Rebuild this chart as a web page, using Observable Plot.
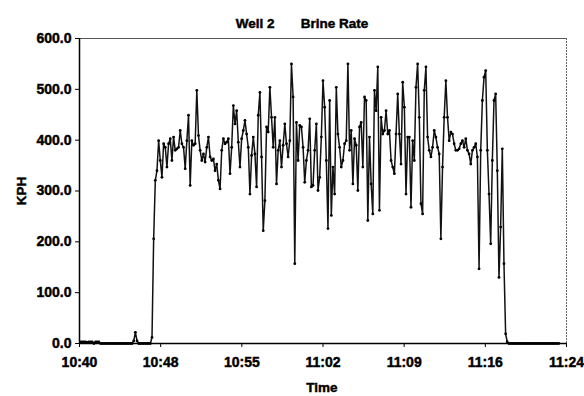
<!DOCTYPE html>
<html>
<head>
<meta charset="utf-8">
<script src="https://cdn.jsdelivr.net/npm/d3@7"></script>
<script src="https://cdn.jsdelivr.net/npm/@observablehq/plot@0.6"></script>
<style>
  html, body { margin: 0; padding: 0; background: #fff; }
  #chart svg text { stroke: #000; stroke-width: 0.45px; }
</style>
</head>
<body>
<div id="chart"></div>
<script>
// ---- data ----
const title = "Well 2\u00a0\u00a0\u00a0\u00a0\u00a0\u00a0\u00a0Brine Rate";
const yLabel = "KPH";
const xLabel = "Time";
const tickLabels = ["10:40", "10:48", "10:55", "11:02", "11:09", "11:16", "11:24"];
const yTicks = [0, 100, 200, 300, 400, 500, 600];
const axisStart = "10:40:00";
const axisEnd = "11:24:00";
// logger: first sample 10:40:06, one sample every 9 s
const firstSample = "10:40:06";
const sampleSeconds = 9;

// KPH, idle before start-up
const idleValues = [3, 3, 3, 3, 2, 3, 3, 3, 0, 3, 3, 3, 0, 0, 0, 0, 0, 0, 0, 0,
  0, 0, 0, 0, 0, 0, 0, 0, 0, 0,
  0, 0, 5, 22, 5, 0, 0, 0, 0, 0, 0, 0, 0];
// KPH, start-up to ~10:58
const runA = [12, 206, 321, 340, 399, 360, 327, 393, 386, 347, 393, 403, 360, 406, 380,
  383, 386, 419, 393, 386, 344, 399, 449, 311, 399, 390, 393, 498, 409, 380,
  360, 373, 357, 386, 406, 367, 360, 363, 340, 353, 321, 304, 380, 403, 393,
  396, 403, 334, 386, 468, 432, 458, 396, 347, 403, 419, 439, 412, 386, 294,
  370, 406, 373, 308, 449, 494, 367, 222, 281, 426, 416];
// KPH, ~10:58 to ~11:10
const runB = [504, 445, 386, 445, 314, 380, 399, 347, 390, 432,
  393, 367, 399, 550, 485, 157, 435, 360, 429, 426,
  386, 317, 360, 380, 442, 308, 311, 380, 432, 301,
  327, 406, 517, 465, 360, 226, 478, 252, 347, 294,
  504, 412, 386, 347, 360, 393, 399, 550, 380, 419,
  314, 403, 390, 301, 426, 435, 347, 485, 478, 242,
  406, 314, 255, 498, 458, 544, 262, 445, 412, 419,
  458, 412, 419, 360, 347, 334, 412, 491, 412, 353,
  514, 465, 294, 406];
// KPH, ~11:10 to shut-down
const runC = [406, 268, 399, 360, 504, 550, 445, 275, 255, 498,
  544, 406, 380, 367, 386, 419, 406, 386, 373, 206,
  347, 445, 517, 445, 399, 416, 412, 393, 380, 380,
  383, 393, 399, 386, 403, 380, 373, 353, 380, 386,
  393, 367, 147, 380, 478, 524, 537, 380, 294, 196,
  360, 478, 491, 340, 130, 229, 383, 157, 19, 3];
// KPH, after shut-down
const offValues = [0, 0, 0, 0, 0, 0, 0, 0, 0, 0, 0, 0, 0, 0, 0, 0, 0, 0, 0, 0,
  0, 0, 0, 0, 0, 0, 0, 0, 0, 0, 0];

// ---- build table ----
function clock(s) {
  const [h, m, sec] = s.split(":").map(Number);
  return new Date(2000, 0, 1, h, m, sec);
}
const t0 = clock(axisStart), t1 = clock(axisEnd);
const allValues = [...idleValues, ...runA, ...runB, ...runC, ...offValues];
const tStart = clock(firstSample);
const data = allValues.map((v, i) => ({
  t: new Date(+tStart + i * sampleSeconds * 1000),
  v
}));
const tickDates = tickLabels.map((_, i) => new Date(+t0 + (t1 - t0) * i / (tickLabels.length - 1)));

const chart = Plot.plot({
  width: 584,
  height: 396,
  marginLeft: 79,
  marginRight: 18,
  marginTop: 38,
  marginBottom: 53,
  style: { fontFamily: "'Liberation Sans', Arial, sans-serif", fontSize: "14px", fontWeight: "bold", color: "#000", background: "#fff" },
  x: { type: "time", domain: [t0, t1] },
  y: { domain: [0, 600] },
  marks: [
    Plot.ruleY([600], { stroke: "#555", strokeWidth: 1 }),
    Plot.ruleX([t1], { stroke: "#666", strokeWidth: 1, strokeDasharray: "2,1" }),
    Plot.axisY({ ticks: yTicks, tickFormat: d => d.toFixed(1), tickSize: 4, tickPadding: 4, label: null, stroke: "#000" }),
    Plot.axisX({ ticks: tickDates, tickFormat: d => tickLabels[tickDates.findIndex(t => +t === +d)], tickSize: 4, tickPadding: 10, label: null, stroke: "#000" }),
    Plot.line(data, { x: "t", y: "v", stroke: "#111", strokeWidth: 1.5 }),
    Plot.dot(data, { x: "t", y: "v", r: 1.4, fill: "#000", stroke: null }),
    Plot.ruleY([0], { stroke: "#000", strokeWidth: 1.5 }),
    Plot.ruleX([t0], { stroke: "#000", strokeWidth: 1.5 })
  ]
});

const svg = d3.select(chart);
svg.append("text").attr("x", 302).attr("y", 28).attr("text-anchor", "middle")
  .attr("font-size", 13.5).attr("font-weight", "bold").attr("fill", "#000").text(title);
svg.append("text").attr("x", 322).attr("y", 392).attr("text-anchor", "middle")
  .attr("font-size", 13.5).attr("font-weight", "bold").attr("fill", "#000").text(xLabel);
svg.append("text").attr("transform", "translate(26,191) rotate(-90)").attr("text-anchor", "middle")
  .attr("font-size", 13.5).attr("font-weight", "bold").attr("fill", "#000").text(yLabel);

document.getElementById("chart").appendChild(chart);
</script>
</body>
</html>
